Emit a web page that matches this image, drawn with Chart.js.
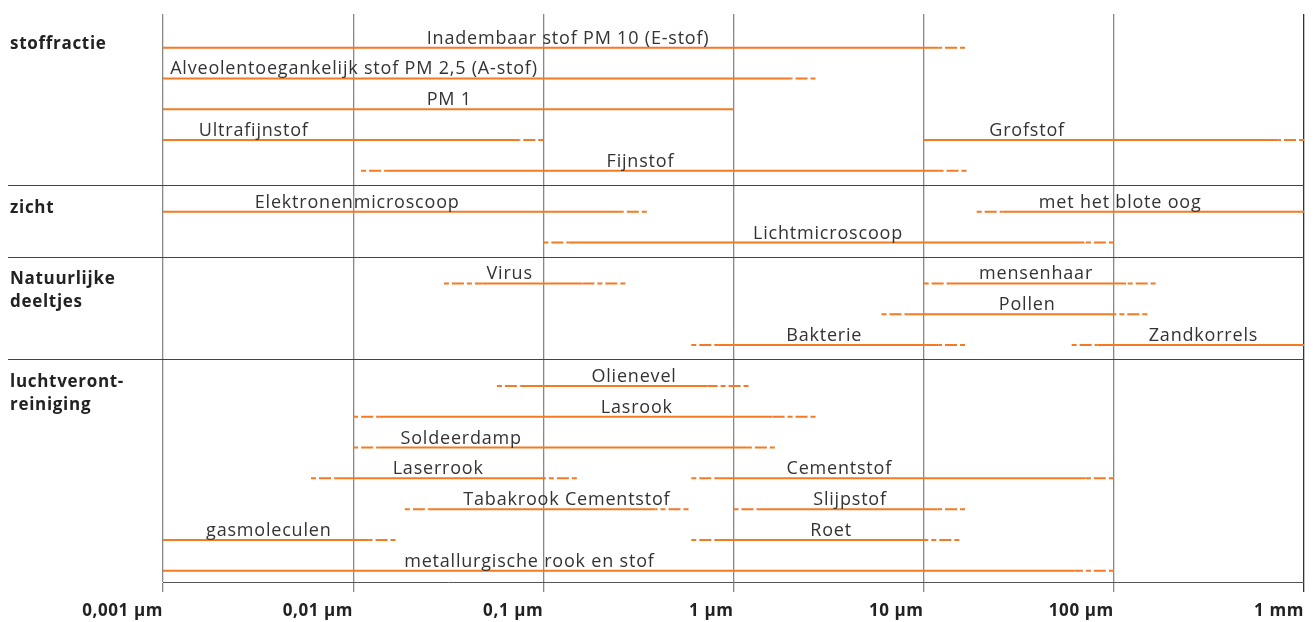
<!DOCTYPE html>
<html lang="nl">
<head>
<meta charset="utf-8">
<title>Deeltjesgrootte</title>
<script src="https://cdn.jsdelivr.net/npm/chart.js@4.4.1/dist/chart.umd.min.js"></script>
<style>
  html, body { margin: 0; padding: 0; background: #fff; }
  #wrap { width: 1313px; height: 622px; }
</style>
</head>
<body>
<div id="wrap"><canvas id="grootteChart" width="1313" height="622"></canvas></div>
<script>
// groepen links in de kantlijn
var groepen = ['stoffractie', 'zicht', 'Natuurlijke\ndeeltjes', 'luchtveront-\nreiniging'];

// deeltjes: naam, groep en baan (regel) binnen de groep
var namen = [
  'Inadembaar stof PM 10 (E-stof)', 'Alveolentoegankelijk stof PM 2,5 (A-stof)', 'PM 1',
  'Ultrafijnstof', 'Grofstof', 'Fijnstof',
  'Elektronenmicroscoop', 'met het blote oog', 'Lichtmicroscoop',
  'Virus', 'mensenhaar', 'Pollen', 'Bakterie', 'Zandkorrels',
  'Olienevel', 'Lasrook', 'Soldeerdamp', 'Laserrook', 'Cementstof',
  'Tabakrook Cementstof', 'Slijpstof', 'gasmoleculen', 'Roet', 'metallurgische rook en stof'
];
var groep = [0, 0, 0, 0, 0, 0, 1, 1, 1, 2, 2, 2, 2, 2, 3, 3, 3, 3, 3, 3, 3, 3, 3, 3];
var baan  = [0, 1, 2, 3, 3, 4, 0, 0, 1, 0, 0, 1, 2, 2, 0, 1, 2, 3, 3, 4, 4, 5, 5, 6];

// grootte in µm: begin (gestreept), begin doorgetrokken, einde doorgetrokken, einde (gestreept)
var vanaf     = [0.001, 0.001, 0.001, 0.001, 10, 0.011, 0.001, 19, 0.1, 0.03, 10, 6, 0.6, 60, 0.057, 0.01, 0.01, 0.006, 0.6, 0.0187, 1, 0.001, 0.6, 0.001];
var vastVanaf = [0.001, 0.001, 0.001, 0.001, 10, 0.015, 0.001, 26, 0.135, 0.048, 13.6, 8.3, 0.83, 82, 0.076, 0.0137, 0.0137, 0.0081, 0.83, 0.025, 1.35, 0.001, 0.83, 0.001];
var vastTot   = [12, 2, 1, 0.075, 735, 12, 0.26, 1000, 70, 0.16, 116, 100, 12, 1000, 0.73, 1.6, 1.18, 0.1, 71, 0.39, 11.8, 0.012, 10, 62];
var tot       = [16.5, 2.7, 1, 0.1, 1000, 16.8, 0.35, 1000, 100, 0.27, 166, 150, 16.5, 1000, 1.2, 2.7, 1.65, 0.15, 100, 0.58, 16.5, 0.0167, 15.4, 100];

// plek van het label boven de lijn (µm)
var labelBij = [0.135, 0.0101, 0.032, 0.003, 35, 0.324, 0.0105, 108, 3.14, 0.0665, 39, 35, 3.0, 296, 0.3, 0.31, 0.037, 0.028, 3.6, 0.133, 4.1, 0.0036, 3.26, 0.0845];

var schaalWaarden = [0.001, 0.01, 0.1, 1, 10, 100, 1000];
var schaalLabels = ['0,001 µm', '0,01 µm', '0,1 µm', '1 µm', '10 µm', '100 µm', '1 mm'];

var ORANJE = '#f47a24';
var TUSSENRUIMTE = 1.33; // extra ruimte tussen de groepen, in regels

// begin-regel van elke groep
var groepStart = [0];
for (var g = 1; g < groepen.length; g++) {
  var vorige = groep.reduce(function (m, gr, i) { return gr === g - 1 ? Math.max(m, baan[i]) : m; }, 0);
  groepStart.push(groepStart[g - 1] + vorige + TUSSENRUIMTE);
}
function rijY(i) { return groepStart[groep[i]] + baan[i]; }

var datasets = namen.map(function (naam, i) {
  var y = rijY(i);
  return {
    label: naam,
    data: [
      { x: vanaf[i], y: y }, { x: vastVanaf[i], y: y },
      { x: vastTot[i], y: y }, { x: tot[i], y: y }
    ],
    borderColor: ORANJE,
    borderWidth: 2,
    pointRadius: 0,
    segment: {
      borderDash: function (ctx) {
        if (ctx.p0DataIndex === 0) return [5, 3, 12, 3];
        if (ctx.p0DataIndex === 2) return [12, 3, 5, 3];
        return [];
      },
      // laat het streepjespatroon aan het eind op een kort streepje eindigen
      borderDashOffset: function (ctx) {
        if (ctx.p0DataIndex !== 2) return 0;
        var lengte = ctx.p1.x - ctx.p0.x;
        return ((20 - lengte) % 23 + 23) % 23;
      }
    }
  };
});

var teksten = {
  id: 'teksten',
  beforeDraw: function (chart) {
    // wat ruimere letters voor de aslabels
    chart.ctx.letterSpacing = '0.6px';
  },
  beforeDatasetsDraw: function (chart) {
    var c = chart.ctx, y = chart.scales.y, area = chart.chartArea;
    c.save();
    c.strokeStyle = '#444';
    c.lineWidth = 1;
    for (var g = 0; g < groepen.length - 1; g++) {
      var laatste = 0;
      groep.forEach(function (gr, i) { if (gr === g) laatste = Math.max(laatste, baan[i]); });
      var py = Math.round(y.getPixelForValue(groepStart[g] + laatste + 0.46)) + 0.5;
      c.beginPath();
      c.moveTo(8, py);
      c.lineTo(area.right, py);
      c.stroke();
    }
    c.restore();
  },
  afterDatasetsDraw: function (chart) {
    var c = chart.ctx, x = chart.scales.x, y = chart.scales.y;
    c.save();
    c.font = '18px "Open Sans", sans-serif';
    c.letterSpacing = '0.8px';
    c.fillStyle = '#333';
    c.textAlign = 'center';
    c.textBaseline = 'alphabetic';
    namen.forEach(function (naam, i) {
      c.fillText(naam, x.getPixelForValue(labelBij[i]), y.getPixelForValue(rijY(i)) - 4);
    });
    c.font = 'bold 17px "Open Sans", sans-serif';
    c.letterSpacing = '0.7px';
    c.fillStyle = '#222';
    c.textAlign = 'left';
    c.textBaseline = 'middle';
    groepen.forEach(function (tekst, g) {
      var py = y.getPixelForValue(groepStart[g]) - 4;
      tekst.split('\n').forEach(function (regel, r) {
        c.fillText(regel, 10, py + r * 23);
      });
    });
    c.restore();
  }
};

new Chart(document.getElementById('grootteChart'), {
  type: 'line',
  data: { datasets: datasets },
  options: {
    responsive: false,
    animation: false,
    devicePixelRatio: 1,
    layout: { padding: { left: 163, right: 6, top: 14, bottom: 0 } },
    plugins: { legend: { display: false }, tooltip: { enabled: false } },
    scales: {
      x: {
        type: 'logarithmic',
        min: 0.001,
        max: 1000,
        afterBuildTicks: function (scale) {
          scale.ticks = schaalWaarden.map(function (v) { return { value: v }; });
        },
        afterFit: function (scale) { scale.height = 40; },
        ticks: {
          autoSkip: false,
          maxRotation: 0,
          align: 'end',
          padding: 9,
          color: '#222',
          font: { family: '"Open Sans", sans-serif', size: 17, weight: 'bold' },
          callback: function (value, index) { return schaalLabels[index]; }
        },
        grid: {
          color: function (ctx) { return ctx.index === schaalWaarden.length - 1 ? '#333' : '#888'; },
          lineWidth: 1.3,
          tickLength: 10
        },
        border: { color: '#555', width: 1 }
      },
      y: {
        type: 'linear',
        reverse: true,
        min: -1.094,
        max: 17.357,
        display: false
      }
    }
  },
  plugins: [teksten]
});
</script>
</body>
</html>
